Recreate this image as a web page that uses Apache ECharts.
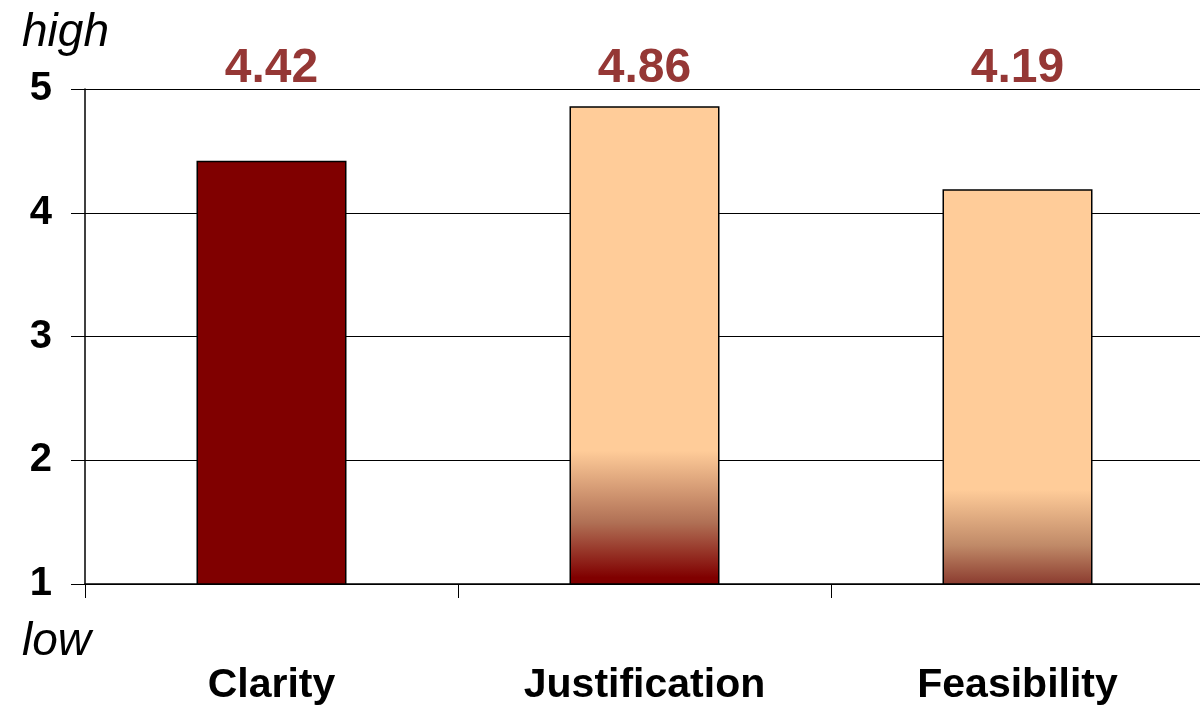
<!DOCTYPE html>
<html>
<head>
<meta charset="utf-8">
<script src="https://cdn.jsdelivr.net/npm/echarts@6/dist/echarts.min.js"></script>
<style>
  html, body { margin: 0; padding: 0; background: #fff; }
  #chart { width: 1200px; height: 705px; }
</style>
</head>
<body>
<div id="chart"></div>
<script>
const categories = ['Clarity', 'Justification', 'Feasibility'];
const scores = [4.42, 4.86, 4.19];
const yTicks = [1, 2, 3, 4, 5];

const PEACH = '#FFCC99';
const DARK = '#800000';
const LABEL_Y = 5.16; // where the value labels sit, above the plot

// bar fills: solid dark red, then two peach bars fading to red at the base
const fills = [
  DARK,
  new echarts.graphic.LinearGradient(0, 0, 0, 1, [
    { offset: 0, color: PEACH },
    { offset: 0.72, color: PEACH },
    { offset: 0.87, color: '#B07055' },
    { offset: 0.985, color: DARK },
    { offset: 1, color: DARK }
  ]),
  new echarts.graphic.LinearGradient(0, 0, 0, 1, [
    { offset: 0, color: PEACH },
    { offset: 0.76, color: PEACH },
    { offset: 0.9, color: '#C08A68' },
    { offset: 1, color: '#8A3A2E' }
  ])
];

const chart = echarts.init(document.getElementById('chart'));

const option = {
  animation: false,
  textStyle: { fontFamily: 'Liberation Sans, Arial, sans-serif' },
  // plot runs a little past the right edge of the picture
  grid: { left: 85, width: 1119, top: 89, bottom: 121, outerBoundsMode: 'none' },
  xAxis: {
    type: 'category',
    data: categories,
    axisLine: { lineStyle: { color: '#000', width: 1.5 } },
    axisTick: { show: true, length: 14, lineStyle: { color: '#000', width: 1 } },
    axisLabel: { color: '#000', fontSize: 41, fontWeight: 'bold', margin: 81 }
  },
  yAxis: {
    type: 'value',
    min: yTicks[0],
    max: yTicks[yTicks.length - 1],
    interval: 1,
    axisLine: { show: true, lineStyle: { color: '#000', width: 1.5 } },
    axisTick: { show: true, length: 14, lineStyle: { color: '#000', width: 1 } },
    axisLabel: { color: '#000', fontSize: 40, fontWeight: 'bold', margin: 33 },
    splitLine: { show: true, lineStyle: { color: '#000', width: 1 } }
  },
  series: [
    {
      type: 'bar',
      barWidth: 150,
      data: scores.map((v, i) => ({
        value: v,
        itemStyle: { color: fills[i], borderColor: '#000', borderWidth: 1.5 }
      }))
    },
    {
      type: 'scatter',
      symbolSize: 0,
      clip: false,
      silent: true,
      itemStyle: { opacity: 1 },
      data: categories.map((c, i) => [c, LABEL_Y, scores[i]]),
      label: {
        show: true,
        position: 'inside',
        formatter: p => p.data[2].toFixed(2),
        color: '#953735',
        opacity: 1,
        fontSize: 48,
        fontWeight: 'bold'
      }
    }
  ],
  graphic: [
    {
      type: 'text', left: 22, top: 10,
      style: { text: 'high', font: 'italic 46px Liberation Sans, Arial, sans-serif', fill: '#000' }
    },
    {
      type: 'text', left: 22, top: 619,
      style: { text: 'low', font: 'italic 46px Liberation Sans, Arial, sans-serif', fill: '#000' }
    }
  ]
};

chart.setOption(option);
</script>
</body>
</html>
